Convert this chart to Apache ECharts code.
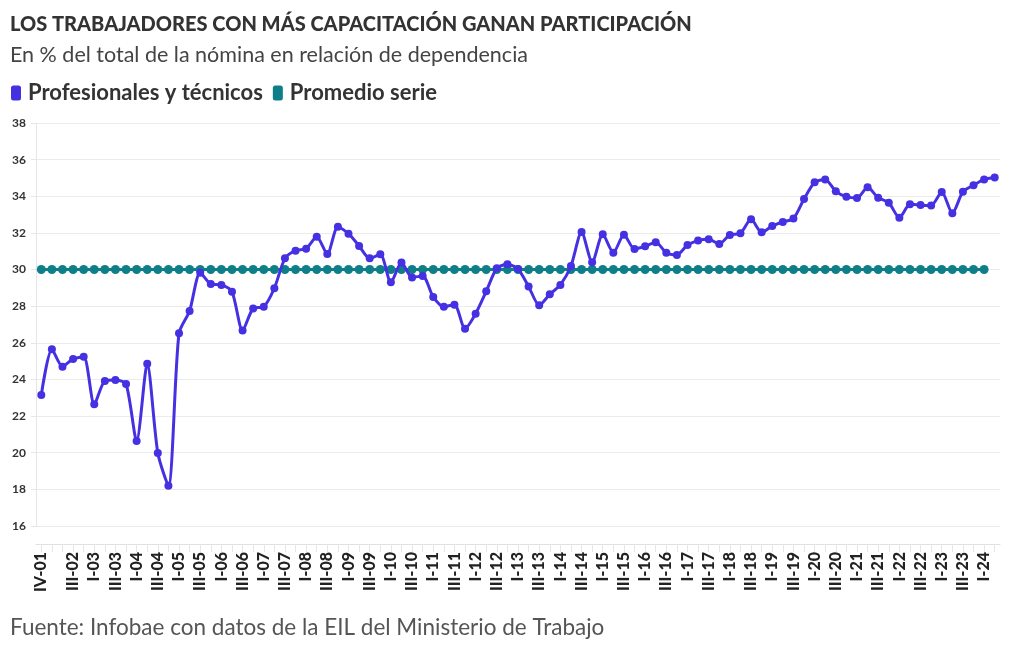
<!DOCTYPE html>
<html>
<head>
<meta charset="utf-8">
<script src="https://cdn.jsdelivr.net/npm/echarts@6/dist/echarts.min.js"></script>
<style>
html,body{margin:0;padding:0;background:#fff;}
#chart{width:1020px;height:650px;}
</style>
</head>
<body>
<div id="chart"></div>
<script>
const categories = [
 'IV-01',
 'I-02','II-02','III-02','IV-02',
 'I-03','II-03','III-03','IV-03',
 'I-04','II-04','III-04','IV-04',
 'I-05','II-05','III-05','IV-05',
 'I-06','II-06','III-06','IV-06',
 'I-07','II-07','III-07','IV-07',
 'I-08','II-08','III-08','IV-08',
 'I-09','II-09','III-09','IV-09',
 'I-10','II-10','III-10','IV-10',
 'I-11','II-11','III-11','IV-11',
 'I-12','II-12','III-12','IV-12',
 'I-13','II-13','III-13','IV-13',
 'I-14','II-14','III-14','IV-14',
 'I-15','II-15','III-15','IV-15',
 'I-16','II-16','III-16','IV-16',
 'I-17','II-17','III-17','IV-17',
 'I-18','II-18','III-18','IV-18',
 'I-19','II-19','III-19','IV-19',
 'I-20','II-20','III-20','IV-20',
 'I-21','II-21','III-21','IV-21',
 'I-22','II-22','III-22','IV-22',
 'I-23','II-23','III-23','IV-23',
 'I-24','II-24'
];

const profesionales = [
 23.15,
 25.65, 24.7, 25.12, 25.24,
 22.64, 23.92, 23.97, 23.75,
 20.64, 24.86, 19.99, 18.2,
 26.52, 27.74, 29.83, 29.21,
 29.16, 28.79, 26.67, 27.88,
 27.97, 28.98, 30.61, 31.03,
 31.14, 31.79, 30.85, 32.34,
 31.96, 31.29, 30.61, 30.83,
 29.3, 30.38, 29.57, 29.65,
 28.5, 27.97, 28.08, 26.77,
 27.59, 28.81, 30.07, 30.29,
 30.03, 29.08, 28.05, 28.65,
 29.16, 30.19, 32.05, 30.4,
 31.92, 30.92, 31.9, 31.12,
 31.27, 31.49, 30.92, 30.8,
 31.34, 31.58, 31.65, 31.4,
 31.89, 31.98, 32.74, 32.03,
 32.38, 32.6, 32.78, 33.85,
 34.76, 34.92, 34.27, 33.98,
 33.91, 34.49, 33.92, 33.65,
 32.83, 33.56, 33.52, 33.49,
 34.23, 33.07, 34.25, 34.6,
 34.92, 35.03
];

// IV-01 ... I-24 (90 quarters)
const promedio = [
 30,
 30,30,30,30, 30,30,30,30, 30,30,30,30, 30,30,30,30,
 30,30,30,30, 30,30,30,30, 30,30,30,30, 30,30,30,30,
 30,30,30,30, 30,30,30,30, 30,30,30,30, 30,30,30,30,
 30,30,30,30, 30,30,30,30, 30,30,30,30, 30,30,30,30,
 30,30,30,30, 30,30,30,30, 30,30,30,30, 30,30,30,30,
 30,30,30,30, 30,30,30,30,
 30
];

const yTicks = { min: 16, max: 38, step: 2 };

const seriesNames = ['Profesionales y técnicos', 'Promedio serie'];
const colors = ['#4530e2', '#0e7f88'];
const FONT = 'Lato, "Noto Sans", sans-serif';

const chart = echarts.init(document.getElementById('chart'), null, {renderer: 'canvas'});
chart.setOption({
  animation: false,
  backgroundColor: '#ffffff',
  title: [
    {
      text: 'LOS TRABAJADORES CON MÁS CAPACITACIÓN GANAN PARTICIPACIÓN',
      subtext: 'En % del total de la nómina en relación de dependencia',
      left: 5, top: 10, itemGap: 9,
      textStyle: {fontFamily: FONT, fontSize: 20, fontWeight: 900, color: '#333333'},
      subtextStyle: {fontFamily: FONT, fontSize: 21.5, color: '#444444'}
    },
    {
      text: 'Fuente: Infobae con datos de la EIL del Ministerio de Trabajo',
      left: 5, top: 611,
      textStyle: {fontFamily: FONT, fontSize: 22.5, fontWeight: 'normal', color: '#555555'}
    }
  ],
  legend: {
    left: 6, top: 77,
    icon: 'roundRect',
    itemWidth: 10, itemHeight: 15, itemGap: 10,
    data: seriesNames,
    textStyle: {fontFamily: FONT, fontSize: 22, fontWeight: 'bold', color: '#333333', padding: [0,0,0,2]}
  },
  grid: {left: 36, right: 20, top: 123, bottom: 124, containLabel: false},
  xAxis: {
    type: 'category',
    data: categories,
    boundaryGap: true,
    offset: 18,
    axisLine: {show: true, lineStyle: {color: '#e0e0e0', width: 1}},
    axisTick: {show: true, alignWithLabel: true, interval: 0, length: 8, lineStyle: {color: '#e6e6e6'}},
    axisLabel: {
      rotate: 90,
      margin: 8,
      interval: function (i) { return i === 0 || (i >= 3 && i % 2 === 1); },
      fontFamily: FONT, fontSize: 16, fontWeight: 900, color: '#222222'
    },
    splitLine: {show: false}
  },
  yAxis: {
    type: 'value',
    min: yTicks.min, max: yTicks.max, interval: yTicks.step,
    axisLine: {show: true, lineStyle: {color: '#e6e6e6'}},
    axisTick: {show: true, length: 5, lineStyle: {color: '#e6e6e6'}},
    axisLabel: {fontFamily: FONT, fontSize: 12, fontWeight: 'bold', color: '#333333', margin: 10},
    splitLine: {show: true, lineStyle: {color: '#ebebeb', width: 1}}
  },
  series: [
    {
      name: seriesNames[0],
      type: 'line',
      data: profesionales,
      smooth: 0.25,
      symbol: 'circle', symbolSize: 8,
      showAllSymbol: true,
      itemStyle: {color: colors[0]},
      lineStyle: {color: colors[0], width: 3},
      z: 3
    },
    {
      name: seriesNames[1],
      type: 'line',
      data: promedio,
      symbol: 'circle', symbolSize: 9,
      showAllSymbol: true,
      itemStyle: {color: colors[1]},
      lineStyle: {color: colors[1], width: 3},
      z: 2
    }
  ]
});
</script>
</body>
</html>
